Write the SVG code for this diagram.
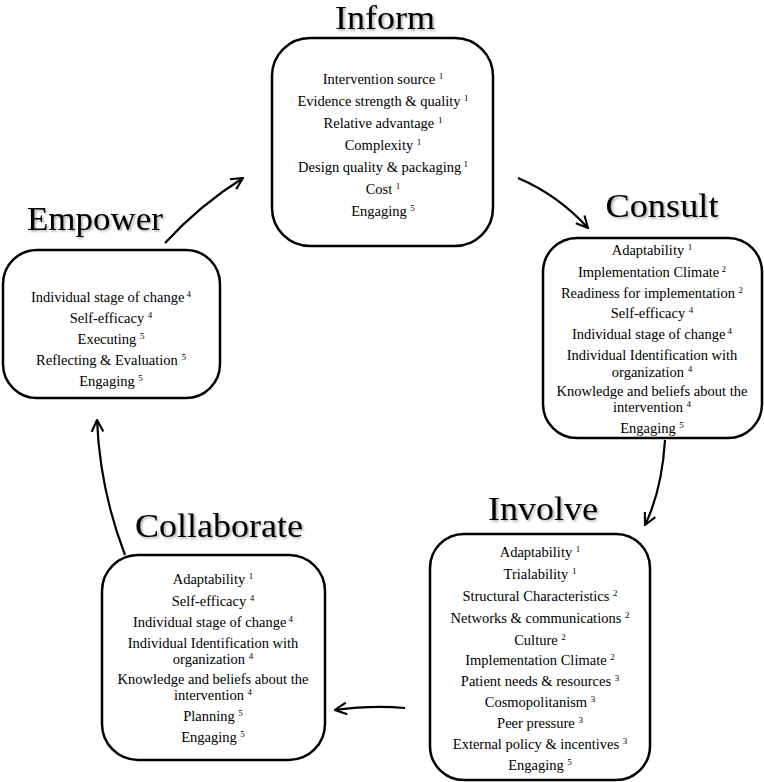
<svg xmlns="http://www.w3.org/2000/svg" width="764" height="782" viewBox="0 0 764 782">
<defs>
<style>
text{font-family:'Liberation Serif','Times New Roman',serif;fill:#000;text-anchor:middle}
.box{fill:#fff;stroke:#000;stroke-width:2.5}
.t{font-size:14.5px}
.s{font-size:9px}
.title{font-size:34px;filter:url(#sh)}
.c{fill:none;stroke:#000;stroke-width:2.2}
</style>
<filter id="sh" x="-10%" y="-20%" width="130%" height="150%">
<feDropShadow dx="1.5" dy="1.5" stdDeviation="1.2" flood-color="#000" flood-opacity="0.35"/>
</filter>
<marker id="ah" viewBox="0 0 12 12" refX="11" refY="6" markerWidth="14" markerHeight="14" markerUnits="userSpaceOnUse" orient="auto">
<path d="M1,1 L11,6 L1,11" fill="none" stroke="#000" stroke-width="1.8"/>
</marker>
</defs>
<rect width="764" height="782" fill="#fff"/>
<g id="connectors">
<path class="c" d="M165,243 Q200,205 243,178" marker-end="url(#ah)"/>
<path class="c" d="M518,178 Q558,195 588,228" marker-end="url(#ah)"/>
<path class="c" d="M665,440 Q662,490 645,525" marker-end="url(#ah)"/>
<path class="c" d="M405,708 Q372,705 335,710" marker-end="url(#ah)"/>
<path class="c" d="M125,555 Q100,490 97,420" marker-end="url(#ah)"/>
</g>
<g id="inform">
<text class="title" x="385" y="29" textLength="100" lengthAdjust="spacingAndGlyphs">Inform</text>
<rect class="box" x="272" y="38" width="221" height="208" rx="38"/>
<text class="t" x="383" y="84">Intervention source <tspan class="s" dy="-5">1</tspan></text>
<text class="t" x="383" y="106">Evidence strength &amp; quality <tspan class="s" dy="-5">1</tspan></text>
<text class="t" x="383" y="128">Relative advantage <tspan class="s" dy="-5">1</tspan></text>
<text class="t" x="383" y="150">Complexity <tspan class="s" dy="-5">1</tspan></text>
<text class="t" x="383" y="172">Design quality &amp; packaging<tspan class="s" dy="-5"> 1</tspan></text>
<text class="t" x="383" y="194">Cost <tspan class="s" dy="-5">1</tspan></text>
<text class="t" x="383" y="216">Engaging <tspan class="s" dy="-5">5</tspan></text>
</g>
<g id="consult">
<text class="title" x="662" y="217" textLength="113" lengthAdjust="spacingAndGlyphs">Consult</text>
<rect class="box" x="543" y="238" width="219" height="200" rx="34"/>
<text class="t" x="652" y="255">Adaptability <tspan class="s" dy="-5">1</tspan></text>
<text class="t" x="652" y="277">Implementation Climate<tspan class="s" dy="-5"> 2</tspan></text>
<text class="t" x="652" y="298">Readiness for implementation <tspan class="s" dy="-5">2</tspan></text>
<text class="t" x="652" y="318">Self-efficacy <tspan class="s" dy="-5">4</tspan></text>
<text class="t" x="652" y="339">Individual stage of change<tspan class="s" dy="-5"> 4</tspan></text>
<text class="t" x="652" y="360">Individual Identification with</text>
<text class="t" x="652" y="377">organization <tspan class="s" dy="-5">4</tspan></text>
<text class="t" x="652" y="396">Knowledge and beliefs about the</text>
<text class="t" x="652" y="412">intervention <tspan class="s" dy="-5">4</tspan></text>
<text class="t" x="652" y="433">Engaging <tspan class="s" dy="-5">5</tspan></text>
</g>
<g id="involve">
<text class="title" x="543" y="520" textLength="110" lengthAdjust="spacingAndGlyphs">Involve</text>
<rect class="box" x="430" y="534" width="220" height="246" rx="34"/>
<text class="t" x="540" y="557">Adaptability <tspan class="s" dy="-5">1</tspan></text>
<text class="t" x="540" y="579">Trialability <tspan class="s" dy="-5">1</tspan></text>
<text class="t" x="540" y="601">Structural Characteristics <tspan class="s" dy="-5">2</tspan></text>
<text class="t" x="540" y="623">Networks &amp; communications <tspan class="s" dy="-5">2</tspan></text>
<text class="t" x="540" y="645">Culture <tspan class="s" dy="-5">2</tspan></text>
<text class="t" x="540" y="665">Implementation Climate <tspan class="s" dy="-5">2</tspan></text>
<text class="t" x="540" y="686">Patient needs &amp; resources <tspan class="s" dy="-5">3</tspan></text>
<text class="t" x="540" y="707">Cosmopolitanism <tspan class="s" dy="-5">3</tspan></text>
<text class="t" x="540" y="728">Peer pressure <tspan class="s" dy="-5">3</tspan></text>
<text class="t" x="540" y="749">External policy &amp; incentives <tspan class="s" dy="-5">3</tspan></text>
<text class="t" x="540" y="770">Engaging <tspan class="s" dy="-5">5</tspan></text>
</g>
<g id="collaborate">
<text class="title" x="219" y="537" textLength="168" lengthAdjust="spacingAndGlyphs">Collaborate</text>
<rect class="box" x="102" y="555" width="223" height="205" rx="36"/>
<text class="t" x="213" y="584">Adaptability <tspan class="s" dy="-5">1</tspan></text>
<text class="t" x="213" y="606">Self-efficacy <tspan class="s" dy="-5">4</tspan></text>
<text class="t" x="213" y="627">Individual stage of change<tspan class="s" dy="-5"> 4</tspan></text>
<text class="t" x="213" y="648">Individual Identification with</text>
<text class="t" x="213" y="664">organization <tspan class="s" dy="-5">4</tspan></text>
<text class="t" x="213" y="684">Knowledge and beliefs about the</text>
<text class="t" x="213" y="700">intervention <tspan class="s" dy="-5">4</tspan></text>
<text class="t" x="213" y="721">Planning <tspan class="s" dy="-5">5</tspan></text>
<text class="t" x="213" y="742">Engaging <tspan class="s" dy="-5">5</tspan></text>
</g>
<g id="empower">
<text class="title" x="95" y="230" textLength="136" lengthAdjust="spacingAndGlyphs">Empower</text>
<rect class="box" x="3" y="250" width="217" height="148" rx="34"/>
<text class="t" x="111" y="302">Individual stage of change<tspan class="s" dy="-5"> 4</tspan></text>
<text class="t" x="111" y="323">Self-efficacy <tspan class="s" dy="-5">4</tspan></text>
<text class="t" x="111" y="344">Executing <tspan class="s" dy="-5">5</tspan></text>
<text class="t" x="111" y="365">Reflecting &amp; Evaluation <tspan class="s" dy="-5">5</tspan></text>
<text class="t" x="111" y="386">Engaging <tspan class="s" dy="-5">5</tspan></text>
</g>
</svg>
